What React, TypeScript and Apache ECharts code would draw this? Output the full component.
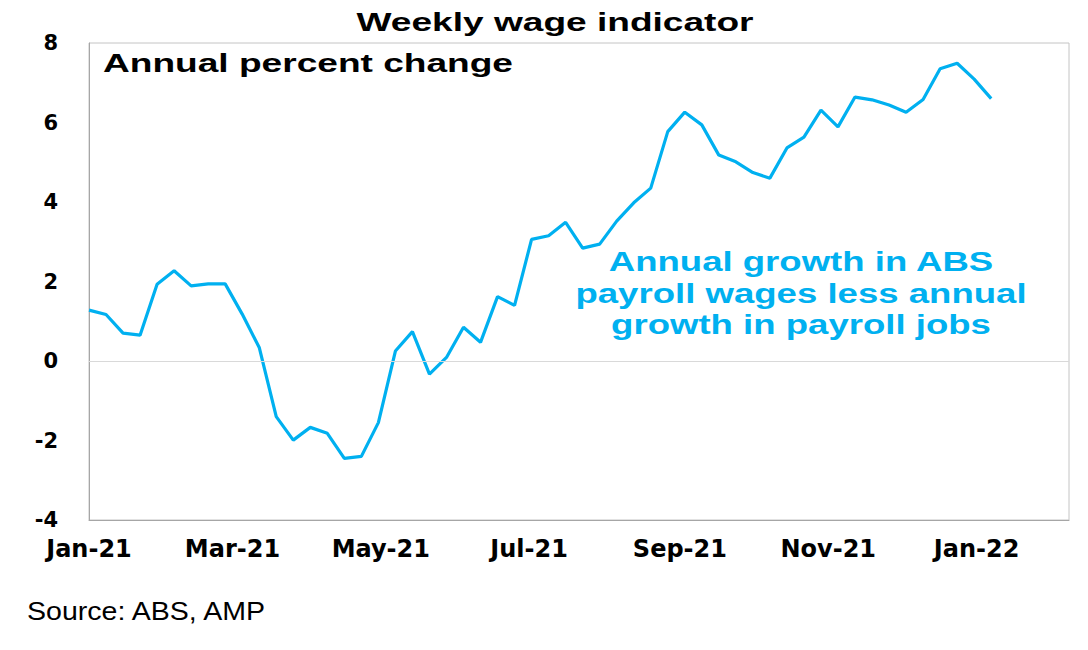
import React, { useEffect, useRef } from "react";
import * as echarts from "echarts";

// Weekly dates (week ending), first week of Jan 2021 onwards
const axisStartDate = "2021-01-01";
const firstWeekDate = "2021-01-01";
const weeksCount = 54;

// Annual growth in ABS payroll wages less annual growth in payroll jobs (%)
const wageLessJobs = [
  1.28, 1.17, 0.70, 0.65, 1.93, 2.27, 1.89, 1.94, 1.94, 1.18,
  0.34, -1.40, -1.99, -1.67, -1.82, -2.45, -2.40, -1.55, 0.25, 0.74,
  -0.33, 0.09, 0.85, 0.47, 1.62, 1.40, 3.06, 3.15, 3.49, 2.84,
  2.94, 3.52, 3.98, 4.35, 5.77, 6.26, 5.94, 5.18, 5.01, 4.74,
  4.60, 5.36, 5.63, 6.31, 5.89, 6.64, 6.57, 6.44, 6.26, 6.58,
  7.35, 7.49, 7.09, 6.60,
];

const tickDates = ["2021-01-01", "2021-03-01", "2021-05-01", "2021-07-01", "2021-09-01", "2021-11-01", "2022-01-01"];
const tickLabels = ["Jan-21", "Mar-21", "May-21", "Jul-21", "Sep-21", "Nov-21", "Jan-22"];
const axisEndDate = "2022-02-08";

const yTicks = { min: -4, max: 8, step: 2 };

const titleText = "Weekly wage indicator";
const subtitleText = "Annual percent change";
const annotationLines = ["Annual growth in ABS", "payroll wages less annual", "growth in payroll jobs"];
const sourceText = "Source: ABS, AMP";

const DAY = 86400000;
const dayOf = (d: string) => Math.round((Date.parse(d) - Date.parse(axisStartDate)) / DAY);

export default function App() {
  const ref = useRef<HTMLDivElement>(null);

  useEffect(() => {
    document.body.style.margin = "0";
    if (!ref.current) return;
    const chart = echarts.init(ref.current, undefined, { renderer: "svg" });

    const firstDay = dayOf(firstWeekDate);
    const seriesData = wageLessJobs.slice(0, weeksCount).map((v, i) => [firstDay + i * 7, v]);
    const tickDays = tickDates.map(dayOf);
    const labelMap: Record<number, string> = {};
    tickDays.forEach((d, i) => (labelMap[d] = tickLabels[i]));

    const blue = "#00B0F0";
    const axisFont = "DejaVu Sans";
    const textFont = "Liberation Sans";

    const option: any = {
      animation: false,
      grid: {
        left: 89,
        right: 19,
        top: 43,
        bottom: 130,
        show: true,
        borderColor: "#C4C4C4",
        borderWidth: 1,
      },
      xAxis: {
        type: "value",
        min: 0,
        max: dayOf(axisEndDate),
        axisLine: { show: true, onZero: false, lineStyle: { color: "#A6A6A6", width: 1 } },
        axisTick: { show: false },
        splitLine: { show: false },
        axisLabel: {
          customValues: tickDays,
          formatter: (v: number) => labelMap[v] ?? "",
          fontFamily: axisFont,
          fontWeight: "bold",
          fontSize: 24,
          color: "#000",
          margin: 17,
        },
      },
      yAxis: {
        type: "value",
        min: yTicks.min,
        max: yTicks.max,
        interval: yTicks.step,
        axisLine: { show: true, lineStyle: { color: "#A6A6A6", width: 1 } },
        axisTick: { show: false },
        splitLine: { show: false },
        axisLabel: {
          fontFamily: axisFont,
          fontWeight: "bold",
          fontSize: 21,
          color: "#000",
          margin: 31,
        },
      },
      series: [
        {
          type: "line",
          data: seriesData,
          showSymbol: false,
          symbol: "none",
          lineStyle: { color: blue, width: 3.2 },
          markLine: {
            silent: true,
            symbol: "none",
            label: { show: false },
            lineStyle: { color: "#D9D9D9", width: 1, type: "solid" },
            data: [{ yAxis: 0 }],
          },
          z: 3,
        },
      ],
      graphic: [
        {
          type: "text",
          x: 555,
          y: 21.5,
          scaleX: 1.4,
          style: {
            text: titleText,
            fontFamily: textFont,
            fontWeight: "bold",
            fontSize: 26.5,
            fill: "#000",
            align: "center",
            verticalAlign: "middle",
          },
        },
        {
          type: "text",
          x: 103,
          y: 63,
          scaleX: 1.4,
          style: {
            text: subtitleText,
            fontFamily: textFont,
            fontWeight: "bold",
            fontSize: 26.5,
            fill: "#000",
            align: "left",
            verticalAlign: "middle",
          },
        },
        {
          type: "text",
          x: 801,
          y: 293.5,
          scaleX: 1.33,
          style: {
            text: annotationLines.join("\n"),
            fontFamily: textFont,
            fontWeight: "bold",
            fontSize: 27.5,
            lineHeight: 31.5,
            fill: blue,
            align: "center",
            verticalAlign: "middle",
          },
        },
        {
          type: "text",
          x: 27,
          y: 611,
          scaleX: 1.12,
          style: {
            text: sourceText,
            fontFamily: textFont,
            fontSize: 25.5,
            fill: "#000",
            align: "left",
            verticalAlign: "middle",
          },
        },
      ],
    };

    chart.setOption(option);
    return () => chart.dispose();
  }, []);

  return <div ref={ref} style={{ width: 1088, height: 650 }} />;
}
